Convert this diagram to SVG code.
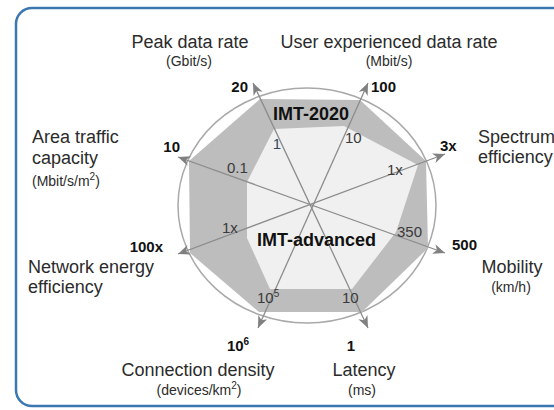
<svg xmlns="http://www.w3.org/2000/svg" width="554" height="410" viewBox="0 0 554 410">
<style>
  .lbl { font-family: "Liberation Sans", Arial, sans-serif; font-size: 18px; fill: #2b2b2b; }
  .unit { font-family: "Liberation Sans", Arial, sans-serif; font-size: 14px; fill: #2b2b2b; }
  .val { font-family: "Liberation Sans", Arial, sans-serif; font-size: 15px; font-weight: bold; fill: #111; }
  .inner { font-family: "Liberation Sans", Arial, sans-serif; font-size: 15px; fill: #3a3a3a; }
  .title { font-family: "Liberation Sans", Arial, sans-serif; font-size: 18px; font-weight: bold; fill: #111; }
  .axis { stroke: #8c8c8c; stroke-width: 1.3; fill: none; marker-start: url(#arr); marker-end: url(#arr); }
  .mid { text-anchor: middle; }
  .end { text-anchor: end; }
</style>
<defs>
  <marker id="arr" viewBox="0 0 12 10" refX="12" refY="5" markerWidth="12" markerHeight="10" markerUnits="userSpaceOnUse" orient="auto-start-reverse">
    <path d="M0,0 L12,5 L0,10 L3.5,5 Z" fill="#808080"/>
  </marker>
</defs>
<rect id="frame" x="16" y="8" width="570" height="398" rx="16" ry="16" fill="#ffffff" stroke="#3b78b2" stroke-width="2.5"/>

<g id="chart">
  <ellipse cx="307" cy="205.5" rx="129" ry="117.5" fill="#ffffff" stroke="#a9a9a9" stroke-width="1.5"/>
  <polygon id="imt2020" points="260,99 360,100 426,161 428,248 362,312 259,312 190,253 189,161" fill="#bdbdbd"/>
  <polygon id="imtadvanced" points="274,129 344,126 418,165 396,232 352,289 270,289 247,238 247,182" fill="#f0f0f0"/>
</g>

<g id="connectors">
  <line class="axis" x1="368" y1="328" x2="253" y2="83"/>
  <line class="axis" x1="258" y1="328" x2="368" y2="83"/>
  <line class="axis" x1="178" y1="254" x2="445" y2="154"/>
  <line class="axis" x1="178" y1="157" x2="445" y2="253"/>
</g>

<g id="series-labels">
  <text class="title" x="273" y="120">IMT-2020</text>
  <text class="title" x="257" y="246">IMT-advanced</text>
</g>

<g id="inner-values">
  <text class="inner mid" x="277" y="149" style="fill:#34495e">1</text>
  <text class="inner" x="345" y="143">10</text>
  <text class="inner" x="227" y="173">0.1</text>
  <text class="inner" x="387" y="175">1x</text>
  <text class="inner" x="222" y="233">1x</text>
  <text class="inner" x="397" y="237">350</text>
  <text class="inner" x="257" y="303">10<tspan font-size="10" dy="-6">5</tspan></text>
  <text class="inner" x="342" y="303">10</text>
</g>

<g id="node-peak">
  <text class="lbl mid" x="190" y="48">Peak data rate</text>
  <text class="unit mid" x="189" y="66">(Gbit/s)</text>
  <text class="val end" x="248" y="92">20</text>
</g>
<g id="node-user">
  <text class="lbl mid" x="389" y="48">User experienced data rate</text>
  <text class="unit mid" x="389" y="66">(Mbit/s)</text>
  <text class="val" x="371" y="92">100</text>
</g>
<g id="node-spectrum">
  <text class="lbl" x="478" y="143">Spectrum</text>
  <text class="lbl" x="478" y="163">efficiency</text>
  <text class="val" x="440" y="151">3x</text>
</g>
<g id="node-mobility">
  <text class="lbl mid" x="512" y="273">Mobility</text>
  <text class="unit mid" x="511" y="292">(km/h)</text>
  <text class="val" x="452" y="250">500</text>
</g>
<g id="node-latency">
  <text class="val mid" x="351" y="351">1</text>
  <text class="lbl mid" x="364" y="376">Latency</text>
  <text class="unit mid" x="362" y="395">(ms)</text>
</g>
<g id="node-connection">
  <text class="val mid" x="238" y="351">10<tspan font-size="10" dy="-6">6</tspan></text>
  <text class="lbl mid" x="198" y="376">Connection density</text>
  <text class="unit mid" x="199" y="395">(devices/km<tspan font-size="10" dy="-6">2</tspan><tspan dy="6">)</tspan></text>
</g>
<g id="node-network">
  <text class="val end" x="163" y="252">100x</text>
  <text class="lbl" x="28" y="273">Network energy</text>
  <text class="lbl" x="28" y="293">efficiency</text>
</g>
<g id="node-area">
  <text class="val end" x="180" y="152">10</text>
  <text class="lbl" x="32" y="143">Area traffic</text>
  <text class="lbl" x="32" y="164">capacity</text>
  <text class="unit" x="32" y="186">(Mbit/s/m<tspan font-size="10" dy="-6">2</tspan><tspan dy="6">)</tspan></text>
</g>
</svg>
